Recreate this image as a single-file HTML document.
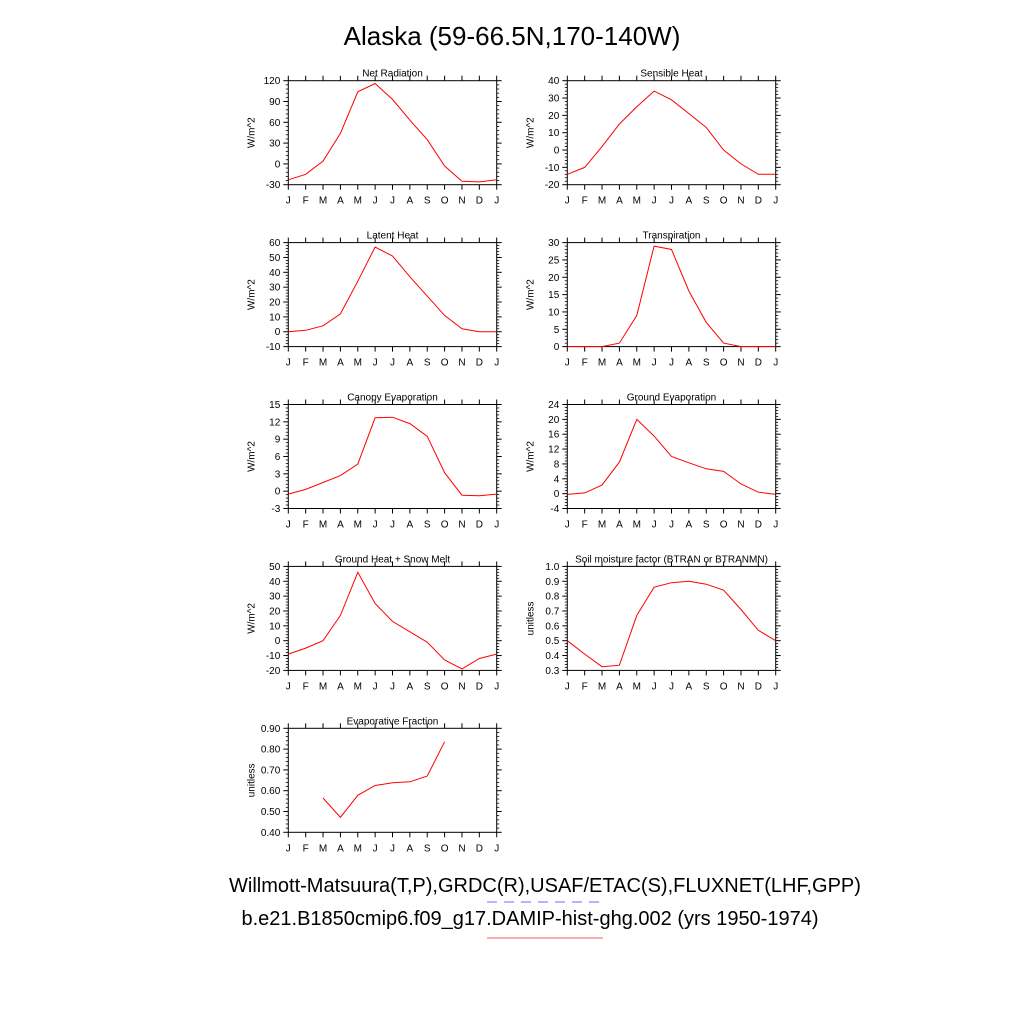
<!DOCTYPE html>
<html><head><meta charset="utf-8"><style>
body{margin:0;background:#fff;width:1024px;height:1024px;overflow:hidden}
svg{display:block;font-family:"Liberation Sans",Arial,sans-serif}
</style></head><body>
<svg id="chart" width="1024" height="1024" viewBox="0 0 1024 1024" xmlns="http://www.w3.org/2000/svg">
<rect width="1024" height="1024" fill="#fff"/>
<text x="512" y="45" font-size="26" text-anchor="middle">Alaska (59-66.5N,170-140W)</text>
<text x="545" y="892" font-size="20" text-anchor="middle">Willmott-Matsuura(T,P),GRDC(R),USAF/ETAC(S),FLUXNET(LHF,GPP)</text>
<line x1="487" y1="902" x2="603" y2="902" stroke="#8888ff" stroke-width="1.2" stroke-dasharray="10,7"/>
<text x="530" y="925" font-size="20" text-anchor="middle">b.e21.B1850cmip6.f09_g17.DAMIP-hist-ghg.002 (yrs 1950-1974)</text>
<line x1="487" y1="938" x2="603" y2="938" stroke="#f08080" stroke-width="1.2"/>
<g id="panels"></g>
</svg>
<script>
const months = ["J","F","M","A","M","J","J","A","S","O","N","D","J"];
const netRad = [-23,-15,4,44,104,116,93,63,35,-3,-25,-26,-23];
const sensible = [-14,-10,2,15,25,34,29,21,13,0,-8,-14,-14];
const latent = [0,1,4,12,34,57,51,37,24,11,2,0,0];
const transp = [0,0,0,1,9,29,28,16,7,1,0,0,0];
const canopy = [-0.5,0.3,1.5,2.7,4.7,12.7,12.8,11.7,9.5,3.2,-0.7,-0.8,-0.5];
const groundEvap = [-0.2,0.2,2.3,8.5,20,15.5,10,8.3,6.7,6,2.6,0.4,-0.2];
const groundHeat = [-9,-5,0,17,46,25,13,6,-1,-13,-19,-12,-9];
const btran = [0.5,0.41,0.325,0.335,0.67,0.86,0.89,0.9,0.88,0.84,0.71,0.57,0.5];
const evapFrac = [null,null,0.565,0.472,0.578,0.625,0.638,0.643,0.67,0.835,null,null,null];
const ticksNet = [-30,0,30,60,90,120];
const ticksSens = [-20,-10,0,10,20,30,40];
const ticksLat = [-10,0,10,20,30,40,50,60];
const ticksTr = [0,5,10,15,20,25,30];
const ticksCan = [-3,0,3,6,9,12,15];
const ticksGE = [-4,0,4,8,12,16,20,24];
const ticksGH = [-20,-10,0,10,20,30,40,50];
const ticksBT = [0.3,0.4,0.5,0.6,0.7,0.8,0.9,1.0];
const ticksEF = [0.4,0.5,0.6,0.7,0.8,0.9];

const panels = [
 {name:"net-radiation",title:"Net Radiation",ylab:"W/m^2",data:netRad,ticks:ticksNet,dec:0,col:0,row:0},
 {name:"sensible-heat",title:"Sensible Heat",ylab:"W/m^2",data:sensible,ticks:ticksSens,dec:0,col:1,row:0},
 {name:"latent-heat",title:"Latent Heat",ylab:"W/m^2",data:latent,ticks:ticksLat,dec:0,col:0,row:1},
 {name:"transpiration",title:"Transpiration",ylab:"W/m^2",data:transp,ticks:ticksTr,dec:0,col:1,row:1},
 {name:"canopy-evaporation",title:"Canopy Evaporation",ylab:"W/m^2",data:canopy,ticks:ticksCan,dec:0,col:0,row:2},
 {name:"ground-evaporation",title:"Ground Evaporation",ylab:"W/m^2",data:groundEvap,ticks:ticksGE,dec:0,col:1,row:2},
 {name:"ground-heat-snow-melt",title:"Ground Heat + Snow Melt",ylab:"W/m^2",data:groundHeat,ticks:ticksGH,dec:0,col:0,row:3},
 {name:"soil-moisture-factor",title:"Soil moisture factor (BTRAN or BTRANMN)",ylab:"unitless",data:btran,ticks:ticksBT,dec:1,col:1,row:3},
 {name:"evaporative-fraction",title:"Evaporative Fraction",ylab:"unitless",data:evapFrac,ticks:ticksEF,dec:2,col:0,row:4}
];
const NS="http://www.w3.org/2000/svg";
const root=document.getElementById("panels");
function mk(tag,attrs,parent){const e=document.createElementNS(NS,tag);for(const k in attrs)e.setAttribute(k,attrs[k]);parent.appendChild(e);return e;}
panels.forEach(p=>{
 const x0=288.3+p.col*279, x1=x0+208.4, y0=80.7+p.row*161.9, y1=y0+104;
 const g=mk("g",{},root);
 
 
 const lo=p.ticks[0], hi=p.ticks[p.ticks.length-1];
 const xs=i=>x0+(x1-x0)*i/12;
 const ys=v=>y1-(y1-y0)*(v-lo)/(hi-lo);
 const fr=mk("rect",{x:x0,y:y0,width:x1-x0,height:y1-y0,fill:"none",stroke:"#000","stroke-width":1},g);
 
 
 const t=mk("text",{x:(x0+x1)/2,y:y0-4,"font-size":10,"text-anchor":"middle"},g);
 t.textContent=p.title;
 
 
 const yl=mk("text",{x:0,y:0,"font-size":10,"text-anchor":"middle",transform:`translate(${x0-34},${(y0+y1)/2}) rotate(-90)`},g);
 yl.textContent=p.ylab;
 
 
 months.forEach((m,i)=>{
  const x=xs(i);
  mk("line",{x1:x,y1:y0,x2:x,y2:y0-5,stroke:"#000","stroke-width":1},g);
  mk("line",{x1:x,y1:y1,x2:x,y2:y1+5,stroke:"#000","stroke-width":1},g);
  const tl=mk("text",{x:x,y:y1+19,"font-size":10,"text-anchor":"middle"},g);
  tl.textContent=m;
  
  
 });
 const step=p.ticks[1]-p.ticks[0];
 p.ticks.forEach((v,k)=>{
  const y=ys(v);
  mk("line",{x1:x0,y1:y,x2:x0-5,y2:y,stroke:"#000","stroke-width":1},g);
  mk("line",{x1:x1,y1:y,x2:x1+5,y2:y,stroke:"#000","stroke-width":1},g);
  if(k<p.ticks.length-1){for(let j=1;j<5;j++){const ym=ys(v+step*j/5);
   mk("line",{x1:x0,y1:ym,x2:x0-2.5,y2:ym,stroke:"#000","stroke-width":0.8},g);
   mk("line",{x1:x1,y1:ym,x2:x1+2.5,y2:ym,stroke:"#000","stroke-width":0.8},g);}}
  const tl=mk("text",{x:x0-8,y:y+3.5,"font-size":10,"text-anchor":"end"},g);
  tl.textContent=v.toFixed(p.dec);
  
  
 });
 let d="",pen=false;
 p.data.forEach((v,i)=>{ if(v===null){pen=false;return;} d+=(pen?"L":"M")+xs(i).toFixed(1)+","+ys(v).toFixed(1); pen=true; });
 const ln=mk("path",{d:d,fill:"none",stroke:"#ff0000","stroke-width":1},g);
 
 
});
</script>
</body></html>
